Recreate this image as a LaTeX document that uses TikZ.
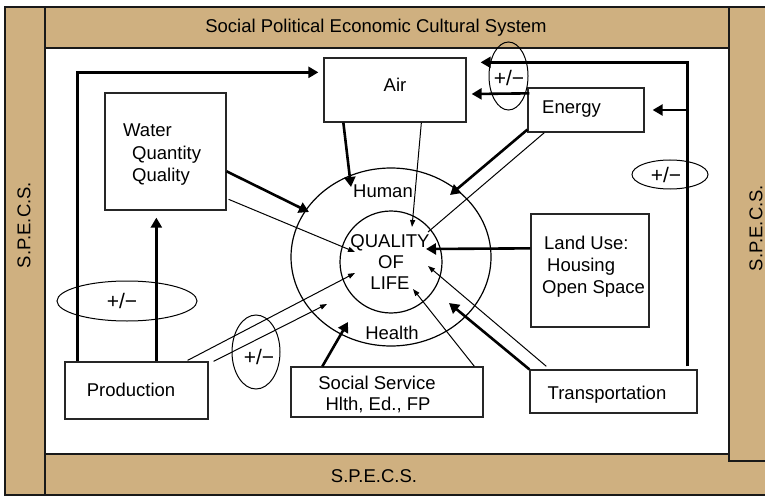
\documentclass[tikz,border=0pt]{standalone}
\usepackage{fontspec}
\setmainfont{Liberation Sans}
\usetikzlibrary{shapes.geometric,arrows.meta,calc}
\definecolor{specs}{RGB}{207,176,128}
\begin{document}
\begin{tikzpicture}[x=1pt,y=-1pt,
  font=\fontsize{18.5}{21}\selectfont,
  box/.style={draw=black!85, line width=1.3pt, inner sep=0pt},
  band/.style={fill=specs, draw=black!90, line width=2pt},
  thickarr/.style={line width=2.6pt, -{Triangle[length=10pt,width=11pt]}},
  thickline/.style={line width=2.6pt},
  thinarr/.style={line width=1pt, -{Triangle[length=7pt,width=5pt]}},
  thinline/.style={line width=1pt},
  pm/.style={draw, ellipse, line width=1pt, inner sep=0pt},
  pmtxt/.style={inner sep=0pt, font=\fontsize{21}{24}\selectfont},
  ring/.style={draw, ellipse, line width=1.2pt, inner sep=0pt},
  txt/.style={inner sep=0pt}]
\useasboundingbox (0,0) rectangle (765,497);
\fill[white] (0,0) rectangle (765,497);

% frame bands
\draw[band] (5,7) rectangle (45,495);
\draw[band] (45,7) rectangle (729,48);
\draw[band] (45,454) rectangle (780,495);
\draw[band] (729,7) rectangle (780,461);
\node[txt, anchor=base] (ttop) at (376,33) {Social Political Economic Cultural System};
\node[txt, anchor=base] (tbot) at (374,482) {S.P.E.C.S.};
\node[txt, rotate=90] (tleft) at (24,225) {S.P.E.C.S.};
\node[txt, rotate=90] (tright) at (756,228) {S.P.E.C.S.};

% boxes
\node[box, minimum width=142pt, minimum height=64pt] (air) at (395,90) {};
\node[box, minimum width=116pt, minimum height=44pt] (energy) at (586,110) {};
\node[box, minimum width=121pt, minimum height=117pt] (water) at (165.5,151.5) {};
\node[box, minimum width=118pt, minimum height=113pt] (land) at (590,270.5) {};
\node[box, minimum width=143pt, minimum height=57pt] (prod) at (136.5,390.5) {};
\node[box, minimum width=192pt, minimum height=50pt] (social) at (387,392) {};
\node[box, minimum width=167pt, minimum height=43pt] (trans) at (613.5,391.5) {};

% box texts
\node[txt, anchor=base] (tair) at (395,92) {Air};
\node[txt, anchor=base west] (tenergy) at (542,114) {Energy};
\node[txt, anchor=base west] (tw1) at (123,137) {Water};
\node[txt, anchor=base west] (tw2) at (132,160) {Quantity};
\node[txt, anchor=base west] (tw3) at (132,182) {Quality};
\node[txt, anchor=base west] (tl1) at (544,249) {Land Use:};
\node[txt, anchor=base west] (tl2) at (547,271) {Housing};
\node[txt, anchor=base west] (tl3) at (542,293) {Open Space};
\node[txt, anchor=base] (tprod) at (131,396) {Production};
\node[txt, anchor=base] (ts1) at (377,389) {Social Service};
\node[txt, anchor=base] (ts2) at (378,410) {Hlth, Ed., FP};
\node[txt, anchor=base] (ttrans) at (607,399) {Transportation};

% circles
\node[ring, minimum width=200pt, minimum height=178pt] (outer) at (391,257) {};
\node[ring, minimum width=102pt, minimum height=102pt] (qol) at (391,262) {};
\node[txt, anchor=base] (q1) at (390,247) {QUALITY};
\node[txt, anchor=base] (q2) at (391,268) {OF};
\node[txt, anchor=base] (q3) at (390,289) {LIFE};
\node[txt, anchor=base] (thuman) at (383,197) {Human};
\node[txt, anchor=base] (thealth) at (392,339) {Health};

% +/- ellipses
\node[pm, minimum width=39pt, minimum height=68pt] (pmtop) at (508.5,76) {};
\node[pm, minimum width=76pt, minimum height=29pt] (pmright) at (670,174.5) {};
\node[pm, minimum width=140pt, minimum height=40pt] (pmleft) at (127,301) {};
\node[pm, minimum width=48pt, minimum height=74pt] (pmbot) at (256,352) {};
\node[pmtxt] (tpmtop) at (509,78) {+/−};
\node[pmtxt] (tpmright) at (666,175) {+/−};
\node[pmtxt] (tpmleft) at (122,301) {+/−};
\node[pmtxt] (tpmbot) at (259,357) {+/−};

% free ends
\coordinate (j) at (688,110);
\coordinate (tE) at (450,195);
\coordinate (tEq) at (428,232);
\coordinate (tA) at (351,187);
\coordinate (tAq) at (412,227);
\coordinate (tW) at (309,212);
\coordinate (tWq) at (355,252);
\coordinate (tL) at (426,249);
\coordinate (tP) at (355,273);
\coordinate (tP2) at (327,304);
\coordinate (tS) at (348,322);
\coordinate (tSq) at (413,289);
\coordinate (tT) at (449,303);
\coordinate (tTq) at (428,266);

% connectors
\draw[thickarr] ($(prod.north west)+(13,0)$) |- ($(air.north west)+(-5,15)$);
\draw[thickarr] ($(prod.north west)+(92,0)$) -- ($(water.south west)+(52,7)$);
\draw[thickarr] ($(trans.north west)+(158,-3)$) |- ($(air.north east)+(14,5)$);
\draw[thickarr] (j) -- ($(energy.east)+(8,0)$);
\draw[thickarr] ($(energy.north west)+(2,6)$) -- ($(air.east)+(5,4)$);
\draw[thickarr] ($(energy.south west)+(0,-3)$) -- (tE);
\draw[thinline] ($(energy.south west)+(17,0)$) -- (tEq);
\draw[thickarr] ($(air.south west)+(20,0)$) -- (tA);
\draw[thinarr] ($(air.south west)+(98,0)$) -- (tAq);
\draw[thickarr] ($(water.north east)+(0,79)$) -- (tW);
\draw[thinarr] ($(water.north east)+(2,107)$) -- (tWq);
\draw[thickarr] ($(land.north west)+(0,35)$) -- (tL);
\draw[thinarr] ($(prod.north east)+(-21,-1)$) -- (tP);
\draw[thinarr] ($(prod.north east)+(5,0)$) -- (tP2);
\draw[thickarr] ($(social.north west)+(32,0)$) -- (tS);
\draw[thinarr] ($(social.north west)+(184,0)$) -- (tSq);
\draw[thickarr] (trans.north west) -- (tT);
\draw[thinarr] ($(trans.north west)+(17,-3)$) -- (tTq);
\end{tikzpicture}
\end{document}
